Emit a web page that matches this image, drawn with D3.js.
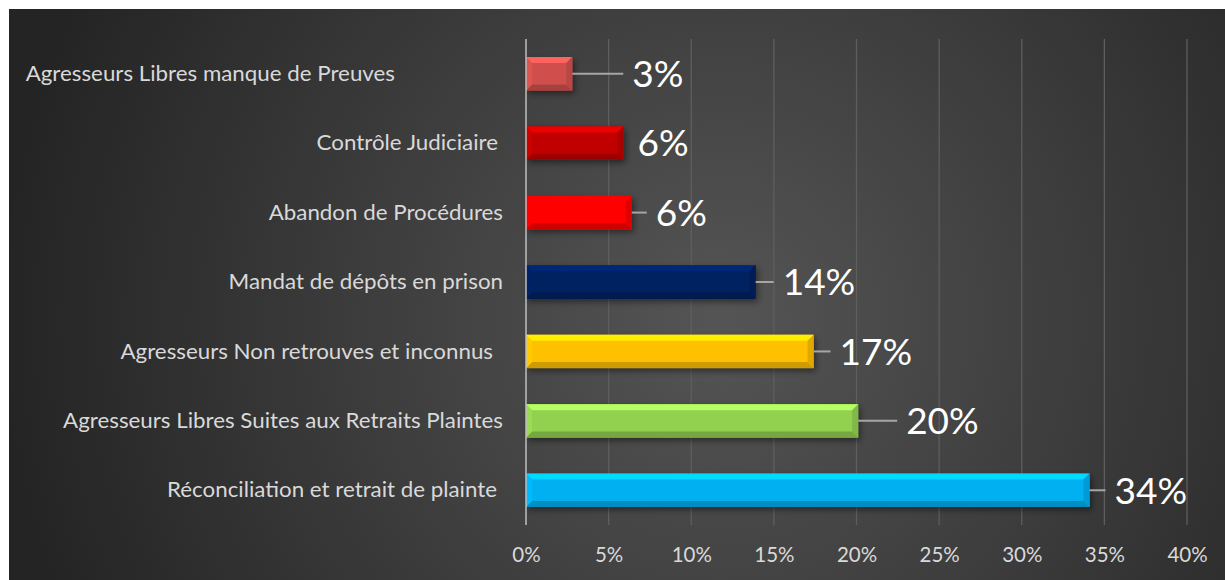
<!DOCTYPE html>
<html lang="fr">
<head>
<meta charset="UTF-8">
<title>Suites des plaintes</title>
<script src="https://d3js.org/d3.v7.min.js"></script>
<style>
  body { margin: 0; background: #fff; }
  svg text { font-family: Lato, "Open Sans", sans-serif; }
</style>
</head>
<body>
<svg id="chart" width="1225" height="580"></svg>
<script>
// data (top to bottom)
const categories = [
  "Agresseurs Libres manque de Preuves",
  "Contrôle Judiciaire",
  "Abandon de Procédures",
  "Mandat de dépôts en prison",
  "Agresseurs Non retrouves et inconnus",
  "Agresseurs Libres Suites aux Retraits Plaintes",
  "Réconciliation et retrait de plainte"
];
const values = [2.8, 5.9, 6.4, 13.9, 17.4, 20.1, 34.1];
const barColors = ["#d0504d", "#c00000", "#ff0000", "#002060", "#ffc000", "#92d050", "#00b0f0"];
const ticks = [0, 5, 10, 15, 20, 25, 30, 35, 40];
// distance from bar end to data label (as placed in the original)
const labelGaps = [60, 14, 24, 27, 26, 48, 25];
// extra room after some category labels (trailing spaces in the source)
const labelPads = [108, 5, 0, 0, 10, 0, 6];

const svg = d3.select('#chart');
const margin = { top: 39, right: 38, bottom: 55, left: 526 };
const width = 1225, height = 580;

// background
const defs = svg.append('defs');
const rg = defs.append('radialGradient').attr('id', 'bg')
  .attr('gradientUnits', 'userSpaceOnUse')
  .attr('cx', 720).attr('cy', 320).attr('r', 720);
rg.append('stop').attr('offset', '0%').attr('stop-color', '#555555');
rg.append('stop').attr('offset', '100%').attr('stop-color', '#242424');

const sh = defs.append('filter').attr('id', 'shadow')
  .attr('x', '-10%').attr('y', '-30%').attr('width', '130%').attr('height', '170%');
sh.append('feDropShadow').attr('dx', 2).attr('dy', 3).attr('stdDeviation', 3)
  .attr('flood-color', '#000').attr('flood-opacity', 0.45);

svg.append('rect').attr('x', 9).attr('y', 9)
  .attr('width', width - 9).attr('height', height - 9)
  .attr('fill', 'url(#bg)');

const x = d3.scaleLinear().domain([0, 40]).range([margin.left, width - margin.right]);
const y = d3.scaleBand().domain(categories)
  .range([margin.top, height - margin.bottom]).paddingInner(0.52).paddingOuter(0.26);

// gridlines
svg.append('g').selectAll('line').data(ticks.slice(1)).enter().append('line')
  .attr('x1', d => x(d)).attr('x2', d => x(d))
  .attr('y1', margin.top).attr('y2', height - margin.bottom)
  .attr('stroke', '#5e5e5e').attr('stroke-width', 1.3);

// x axis labels
const xAxis = svg.append('g')
  .attr('transform', `translate(0, ${height - margin.bottom})`)
  .call(d3.axisBottom(x).tickValues(ticks).tickFormat(d => d + '%').tickSize(0).tickPadding(22));
xAxis.select('.domain').remove();
xAxis.selectAll('text').attr('fill', '#d9d9d9').attr('font-size', '20.5px')
  .style('font-family', 'Lato, sans-serif');

// bars with bevel
const bevel = 6;
const bars = svg.append('g').selectAll('g').data(values).enter().append('g')
  .attr('filter', 'url(#shadow)');

bars.each(function(v, i) {
  const g = d3.select(this);
  const x0 = x(0), x1 = x(v);
  const y0 = y(categories[i]), y1 = y0 + y.bandwidth();
  const c = d3.color(barColors[i]);
  const b = Math.min(bevel, (x1 - x0) / 2);
  g.append('rect').attr('x', x0).attr('y', y0).attr('width', x1 - x0).attr('height', y1 - y0)
    .attr('fill', c.formatHex());
  // top
  g.append('polygon').attr('points', [[x0, y0], [x1, y0], [x1 - b, y0 + b], [x0 + b, y0 + b]].join(' '))
    .attr('fill', c.brighter(0.6).formatHex());
  // bottom
  g.append('polygon').attr('points', [[x0, y1], [x1, y1], [x1 - b, y1 - b], [x0 + b, y1 - b]].join(' '))
    .attr('fill', c.darker(0.6).formatHex());
  // right
  g.append('polygon').attr('points', [[x1, y0], [x1, y1], [x1 - b, y1 - b], [x1 - b, y0 + b]].join(' '))
    .attr('fill', c.darker(0.35).formatHex());
  // left
  g.append('polygon').attr('points', [[x0, y0], [x0, y1], [x0 + b, y1 - b], [x0 + b, y0 + b]].join(' '))
    .attr('fill', c.brighter(0.15).formatHex());
});

// axis line
svg.append('line').attr('x1', x(0)).attr('x2', x(0))
  .attr('y1', margin.top).attr('y2', height - margin.bottom)
  .attr('stroke', '#bfbfbf').attr('stroke-width', 1.5);

// category labels (slightly wide face, like the original)
svg.append('g').selectAll('text').data(categories).enter().append('text')
  .attr('transform', (d, i) =>
    `translate(${x(0) - 23 - labelPads[i]}, ${y(d) + y.bandwidth() / 2}) scale(1.1, 1)`)
  .attr('dy', '0.35em')
  .attr('text-anchor', 'end')
  .attr('fill', '#d9d9d9')
  .attr('font-size', '20.3px')
  .text(d => d);

// leader lines
svg.append('g').selectAll('line').data(values).enter()
  .filter((d, i) => labelGaps[i] > 14)
  .append('line')
  .attr('x1', d => x(d))
  .attr('x2', d => x(d) + labelGaps[values.indexOf(d)] - 9)
  .attr('y1', d => y(categories[values.indexOf(d)]) + y.bandwidth() / 2)
  .attr('y2', d => y(categories[values.indexOf(d)]) + y.bandwidth() / 2)
  .attr('stroke', '#a6a6a6').attr('stroke-width', 2);

// data labels
svg.append('g').selectAll('text').data(values).enter().append('text')
  .attr('x', (d, i) => x(d) + labelGaps[i])
  .attr('y', (d, i) => y(categories[i]) + y.bandwidth() / 2)
  .attr('dy', '0.36em')
  .attr('fill', '#ffffff')
  .attr('font-size', '37px')
  .text(d => Math.round(d) + '%');
</script>
</body>
</html>
